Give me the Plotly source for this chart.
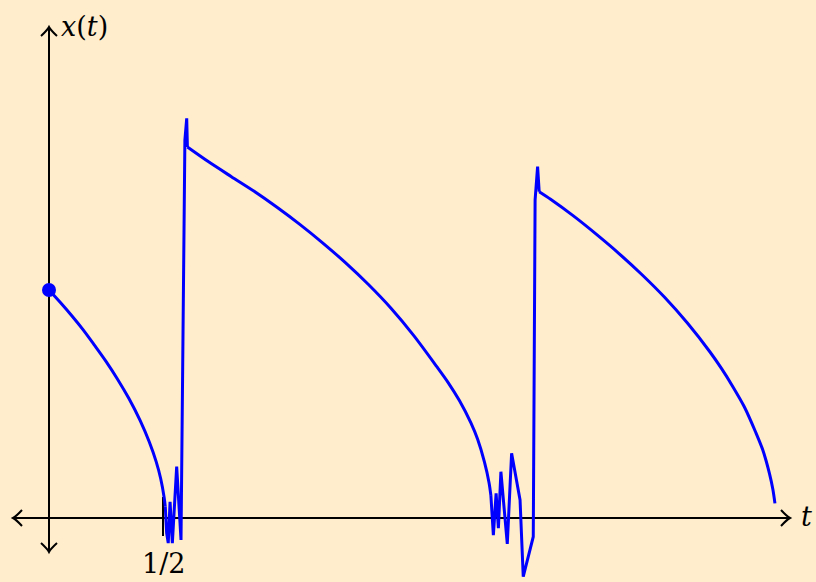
import plotly.graph_objects as go

# ---- data (t, x(t)), split into smooth arcs and oscillating jumps ----
arc1_t = [0.0, 0.05, 0.1, 0.15, 0.2, 0.25, 0.3, 0.35, 0.4, 0.44, 0.47, 0.49, 0.505, 0.51]
arc1_x = [1.0, 0.945, 0.887, 0.825, 0.757, 0.687, 0.61, 0.525, 0.427, 0.333, 0.247, 0.172, 0.09, 0.05]

jump1_t = [0.51, 0.516, 0.523, 0.531, 0.541, 0.56, 0.579, 0.596, 0.604, 0.607]
jump1_x = [0.05, -0.066, -0.11, 0.071, -0.11, 0.225, -0.096, 1.658, 1.753, 1.627]

arc2_t = [0.607, 0.7, 0.8, 0.9, 1.0, 1.1, 1.2, 1.3, 1.4, 1.5, 1.6, 1.7, 1.75, 1.8, 1.85, 1.88, 1.91, 1.93, 1.938]
arc2_x = [1.627, 1.562, 1.497, 1.433, 1.363, 1.288, 1.207, 1.12, 1.025, 0.92, 0.80, 0.665, 0.595, 0.515, 0.418,
          0.345, 0.245, 0.155, 0.10]

jump2_t = [1.938, 1.942, 1.949, 1.961, 1.971, 1.982, 2.01, 2.029, 2.066, 2.08, 2.117, 2.124, 2.132, 2.143, 2.15]
jump2_x = [0.10, 0.021, -0.075, 0.108, -0.045, 0.203, -0.114, 0.284, 0.079, -0.257, -0.111, -0.082, 1.395, 1.541, 1.431]

arc3_t = [2.15, 2.2, 2.3, 2.4, 2.5, 2.6, 2.7, 2.8, 2.9, 2.95, 3.0, 3.05, 3.1, 3.13, 3.16, 3.175, 3.184]
arc3_x = [1.431, 1.398, 1.325, 1.245, 1.16, 1.068, 0.968, 0.855, 0.727, 0.655, 0.575, 0.487, 0.375, 0.30, 0.195,
          0.125, 0.064]

start_t = [0.0]
start_x = [1.0]
tick_t = [0.5]
tick_labels = ["1/2"]

PX = 228.0  # pixels per unit (both axes)
W, H = 816, 582
OX, OY = 49, 518  # pixel of origin

def dx(px):
    return (px - OX) / PX

def dy(py):
    return (OY - py) / PX

BG = "#FFEDCC"
BLUE = "#0000FF"

fig = go.Figure()
for tt, xx, shape in [(arc1_t, arc1_x, "spline"), (jump1_t, jump1_x, "linear"),
                      (arc2_t, arc2_x, "spline"), (jump2_t, jump2_x, "linear"),
                      (arc3_t, arc3_x, "spline")]:
    fig.add_trace(go.Scatter(x=tt, y=xx, mode="lines",
                             line=dict(color=BLUE, width=3, shape=shape, smoothing=0.8),
                             hoverinfo="skip", showlegend=False))
fig.add_trace(go.Scatter(x=start_t, y=start_x, mode="markers",
                         marker=dict(color=BLUE, size=14), showlegend=False))

shapes = []
# axes
shapes.append(dict(type="line", xref="x", yref="y", x0=dx(13), x1=dx(790), y0=0, y1=0,
                   line=dict(color="black", width=2), layer="below"))
shapes.append(dict(type="line", xref="x", yref="y", x0=0, x1=0, y0=dy(27), y1=dy(552),
                   line=dict(color="black", width=2), layer="below"))

def chevron(tip, direction):
    tx, ty = tip
    a, b = 9, 8  # back, half-width
    if direction == "right":
        p1, c1, c2, p2 = (tx - a, ty - b), (tx - 3, ty - 1.5), (tx - 3, ty + 1.5), (tx - a, ty + b)
    elif direction == "left":
        p1, c1, c2, p2 = (tx + a, ty - b), (tx + 3, ty - 1.5), (tx + 3, ty + 1.5), (tx + a, ty + b)
    elif direction == "up":
        p1, c1, c2, p2 = (tx - b, ty + a), (tx - 1.5, ty + 3), (tx + 1.5, ty + 3), (tx + b, ty + a)
    else:
        p1, c1, c2, p2 = (tx - b, ty - a), (tx - 1.5, ty - 3), (tx + 1.5, ty - 3), (tx + b, ty - a)
    path = (f"M {dx(p1[0])},{dy(p1[1])} Q {dx(c1[0])},{dy(c1[1])} {dx(tx)},{dy(ty)} "
            f"Q {dx(c2[0])},{dy(c2[1])} {dx(p2[0])},{dy(p2[1])}")
    return dict(type="path", xref="x", yref="y", path=path,
                line=dict(color="black", width=2), layer="below")

shapes.append(chevron((790, 518), "right"))
shapes.append(chevron((13, 518), "left"))
shapes.append(chevron((49, 27), "up"))
shapes.append(chevron((49, 552), "down"))

for tt in tick_t:
    shapes.append(dict(type="line", xref="x", yref="y", x0=tt, x1=tt, y0=dy(497), y1=dy(536),
                       line=dict(color="black", width=2), layer="below"))

FONT = dict(family="DejaVu Serif", size=27, color="black")
annotations = []
for tt, lab in zip(tick_t, tick_labels):
    annotations.append(dict(x=tt, y=dy(563), xref="x", yref="y", text=lab, showarrow=False,
                            font=FONT, xanchor="center", yanchor="middle"))
annotations.append(dict(x=dx(59), y=dy(26), xref="x", yref="y", text="<i>x</i>(<i>t</i>)", showarrow=False,
                        font=FONT, xanchor="left", yanchor="middle"))
annotations.append(dict(x=dx(799), y=dy(516), xref="x", yref="y", text="<i>t</i>", showarrow=False,
                        font=FONT, xanchor="left", yanchor="middle"))

fig.update_layout(
    width=W, height=H,
    margin=dict(l=0, r=0, t=0, b=0),
    paper_bgcolor=BG, plot_bgcolor=BG,
    xaxis=dict(range=[dx(0), dx(W)], visible=False, fixedrange=True),
    yaxis=dict(range=[dy(H), dy(0)], visible=False, fixedrange=True),
    shapes=shapes, annotations=annotations, showlegend=False,
)

fig.write_html("out.html", config={"displayModeBar": False},
               post_script="document.body.style.margin='0';document.body.style.padding='0';document.body.style.overflow='hidden';")
